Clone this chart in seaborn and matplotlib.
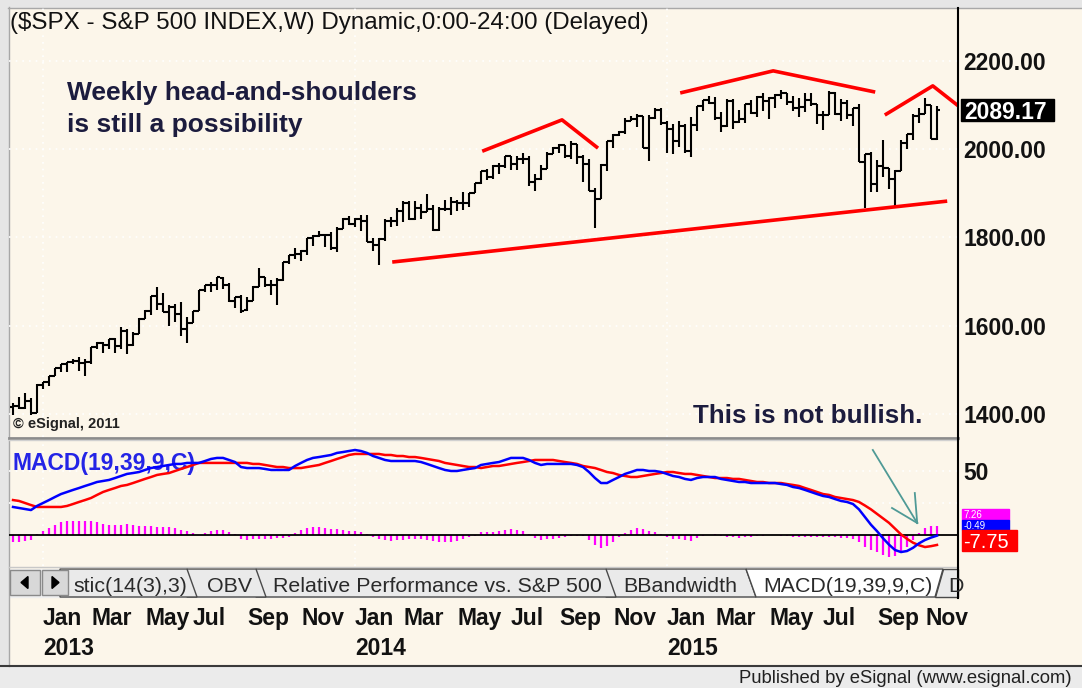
import numpy as np
import pandas as pd
import matplotlib
matplotlib.use("Agg")
import matplotlib.pyplot as plt
from matplotlib.patches import Rectangle, Polygon
import seaborn as sns

# ------------------------------------------------------------------ data
first_week_monday = "2012-12-03"          # weekly bars, dated by Monday

opens = [1416, 1418, 1414, 1430,
         1402, 1466, 1472, 1485, 1503, 1513, 1518, 1520, 1516, 1518, 1551, 1561, 1556, 1569, 1553, 1588,
         1555, 1582, 1614, 1633, 1667, 1650, 1631, 1643, 1626, 1593, 1606, 1632, 1680, 1692, 1692, 1708,
         1691, 1656, 1664, 1636, 1655, 1688, 1710, 1692, 1691, 1703, 1745, 1759, 1762, 1770, 1798, 1804,
         1806, 1805, 1775, 1818,
         1841, 1831, 1842, 1838, 1790, 1783, 1797, 1838, 1836, 1859, 1878, 1841, 1866, 1857, 1865, 1816,
         1864, 1863, 1881, 1878, 1878, 1901, 1924, 1950, 1936, 1962, 1961, 1985, 1967, 1978, 1978, 1925,
         1931, 1955, 1988, 2003, 2008, 1985, 2011, 1982, 1967, 1906, 1887, 1964, 2018, 2032, 2039, 2064,
         2068, 2075, 2002, 2071,
         2089, 2058, 2045, 2019, 2051, 1995, 2055, 2097, 2110, 2105, 2071, 2053, 2108, 2061, 2067, 2102,
         2081, 2117, 2108, 2116, 2123, 2126, 2107, 2092, 2095, 2110, 2102, 2077, 2077, 2127, 2079, 2104,
         2078, 2092, 1971, 1989, 1921, 1961, 1958, 1931, 1951, 2014, 2033, 2075, 2079, 2099, 2023]
highs = [1424, 1438, 1448, 1435,
         1467, 1472, 1485, 1503, 1514, 1518, 1524, 1530, 1525, 1552, 1564, 1563, 1570, 1573, 1597, 1592,
         1585, 1618, 1635, 1667, 1687, 1674, 1646, 1648, 1654, 1620, 1632, 1680, 1693, 1698, 1710, 1709,
         1696, 1664, 1670, 1664, 1689, 1730, 1711, 1704, 1708, 1745, 1759, 1775, 1771, 1799, 1806, 1814,
         1806, 1811, 1823, 1844,
         1849, 1843, 1850, 1850, 1798, 1798, 1841, 1847, 1867, 1883, 1883, 1883, 1875, 1897, 1873, 1869,
         1884, 1891, 1885, 1902, 1901, 1924, 1950, 1955, 1964, 1968, 1985, 1985, 1984, 1991, 1985, 1943,
         1964, 1994, 2005, 2012, 2008, 2019, 2011, 1986, 1977, 1912, 1965, 2018, 2034, 2041, 2071, 2075,
         2079, 2075, 2077, 2094,
         2093, 2064, 2056, 2064, 2057, 2073, 2097, 2110, 2119, 2117, 2083, 2114, 2114, 2089, 2102, 2111,
         2120, 2126, 2117, 2124, 2134, 2126, 2121, 2115, 2127, 2126, 2102, 2085, 2132, 2129, 2114, 2112,
         2093, 2102, 1989, 1993, 1975, 2021, 1958, 1952, 2020, 2034, 2079, 2094, 2116, 2099, 2097]
lows = [1398, 1411, 1411, 1398,
        1402, 1456, 1463, 1485, 1495, 1495, 1514, 1497, 1485, 1513, 1547, 1538, 1546, 1539, 1548, 1536,
        1553, 1581, 1614, 1623, 1635, 1630, 1598, 1608, 1577, 1560, 1605, 1632, 1676, 1676, 1681, 1684,
        1654, 1639, 1628, 1633, 1655, 1687, 1687, 1670, 1647, 1700, 1740, 1752, 1746, 1761, 1780, 1801,
        1779, 1772, 1767, 1818,
        1828, 1823, 1815, 1790, 1770, 1738, 1791, 1824, 1826, 1834, 1839, 1839, 1842, 1857, 1814, 1815,
        1859, 1851, 1859, 1862, 1868, 1901, 1921, 1930, 1933, 1944, 1956, 1952, 1952, 1965, 1916, 1905,
        1929, 1955, 1988, 1990, 1980, 1978, 1965, 1926, 1906, 1821, 1886, 1951, 2002, 2030, 2034, 2064,
        2050, 2002, 1972, 2069,
        2054, 1992, 1988, 2005, 1990, 1981, 2041, 2085, 2103, 2066, 2039, 2049, 2045, 2058, 2060, 2079,
        2073, 2085, 2067, 2092, 2114, 2099, 2085, 2072, 2083, 2097, 2056, 2044, 2077, 2077, 2063, 2067,
        2052, 1971, 1867, 1903, 1903, 1937, 1909, 1872, 1951, 1999, 2021, 2059, 2079, 2022, 2020]
closes = [1418, 1413, 1430, 1402,
          1466, 1472, 1485, 1503, 1513, 1518, 1520, 1516, 1518, 1551, 1561, 1556, 1569, 1553, 1588, 1555,
          1582, 1614, 1633, 1667, 1650, 1631, 1643, 1626, 1593, 1606, 1632, 1680, 1692, 1692, 1710, 1691,
          1656, 1664, 1633, 1655, 1688, 1710, 1692, 1691, 1703, 1745, 1759, 1762, 1770, 1798, 1804, 1806,
          1805, 1775, 1818, 1841,
          1831, 1842, 1838, 1790, 1783, 1797, 1838, 1836, 1859, 1878, 1841, 1866, 1857, 1865, 1816, 1864,
          1863, 1881, 1878, 1878, 1901, 1924, 1950, 1936, 1962, 1961, 1985, 1967, 1978, 1978, 1925, 1931,
          1955, 1988, 2003, 2008, 1985, 2011, 1982, 1967, 1906, 1887, 1964, 2018, 2032, 2039, 2064, 2068,
          2075, 2002, 2071, 2089,
          2058, 2045, 2019, 2051, 1995, 2055, 2097, 2110, 2105, 2071, 2053, 2108, 2061, 2067, 2102, 2081,
          2117, 2108, 2116, 2123, 2126, 2107, 2092, 2095, 2110, 2102, 2077, 2077, 2127, 2079, 2104, 2078,
          2092, 1971, 1989, 1921, 1961, 1958, 1931, 1951, 2014, 2033, 2075, 2079, 2099, 2023, 2089.17]

macd_line = [21.9, 21.1, 20.3, 19.5, 22.7, 25.0, 27.3, 29.7, 32.0, 33.6,
             35.2, 36.7, 38.3, 39.8, 41.4, 42.2, 43.0, 44.5, 46.1, 47.7,
             48.4, 49.2, 50.8, 52.3, 53.1, 53.9, 54.7, 55.5, 55.5, 56.3,
             56.3, 56.3, 57.8, 59.4, 60.2, 60.2, 58.6, 57.0, 53.1, 52.3,
             52.3, 52.3, 51.6, 50.8, 50.8, 50.8, 50.8, 53.9, 56.3, 58.6,
             60.2, 60.9, 61.7, 62.5, 64.1, 64.8, 65.6, 66.4, 65.6, 64.1,
             61.7, 60.2, 58.6, 57.8, 57.8, 57.8, 57.8, 57.8, 57.0, 55.5,
             53.9, 52.3, 50.8, 50.0, 50.0, 50.8, 51.6, 52.3, 54.7, 55.5,
             56.3, 57.0, 58.6, 60.2, 60.2, 60.2, 58.6, 56.3, 54.7, 55.5,
             55.5, 55.5, 55.5, 55.5, 54.7, 53.1, 49.2, 44.5, 40.6, 40.6,
             43.0, 45.3, 47.7, 49.2, 50.8, 50.8, 50.0, 50.0, 49.2, 47.7,
             46.1, 45.3, 43.8, 43.0, 44.5, 45.3, 45.3, 45.3, 43.8, 43.0,
             42.2, 41.4, 41.4, 40.6, 40.6, 40.6, 40.6, 40.6, 39.8, 39.1,
             37.5, 36.7, 35.2, 33.6, 32.0, 30.5, 29.7, 28.1, 26.6, 25.8,
             24.2, 20.0, 14.0, 8.0, 3.0, -2.5, -7.5, -11.7, -13.3, -12.5,
             -10.0, -6.5, -3.9, -2.0, -0.49]
signal_line = [27.3, 26.6, 25.0, 23.4, 21.9, 21.9, 21.9, 21.9, 21.9, 22.7,
               24.2, 25.8, 27.3, 28.9, 31.3, 33.6, 35.2, 36.7, 38.3, 39.1,
               40.6, 42.2, 43.8, 45.3, 46.9, 47.7, 48.4, 50.0, 51.6, 53.1,
               54.7, 56.3, 56.3, 56.3, 56.3, 56.3, 56.3, 56.3, 56.3, 56.3,
               55.5, 55.5, 54.7, 53.9, 53.1, 53.1, 52.3, 52.3, 52.3, 53.1,
               53.9, 54.7, 56.3, 57.8, 59.4, 60.9, 62.5, 63.3, 63.3, 63.3,
               63.3, 63.3, 62.5, 62.5, 61.7, 61.7, 60.9, 60.9, 60.2, 59.4,
               58.6, 57.8, 56.3, 55.5, 54.7, 53.9, 53.1, 53.1, 52.3, 53.1,
               53.9, 53.9, 54.7, 55.5, 56.3, 57.0, 57.8, 58.6, 58.6, 58.6,
               58.6, 57.8, 57.0, 56.3, 55.5, 53.9, 53.1, 52.3, 50.8, 49.2,
               48.4, 46.9, 46.1, 45.3, 45.3, 46.1, 46.9, 47.7, 48.4, 49.2,
               49.2, 48.4, 47.7, 47.7, 46.9, 46.1, 45.3, 44.5, 44.5, 44.5,
               43.8, 43.8, 43.0, 42.2, 41.4, 41.4, 40.6, 40.6, 40.6, 39.8,
               39.1, 38.3, 36.7, 35.2, 33.6, 32.0, 31.3, 29.7, 28.9, 28.1,
               27.3, 25.8, 23.0, 20.0, 16.5, 13.0, 9.5, 5.0, 0.5, -3.0,
               -6.0, -8.0, -9.4, -8.7, -7.75]

price_ticks = [1400, 1600, 1800, 2000, 2200]
macd_ticks = [50]
macd_grid = [25, 50]
last_price_label = "2089.17"
macd_tag_texts = ["7.26", "-0.49", "-7.75"]      # histogram, MACD, signal
labeled_months = {1: "Jan", 3: "Mar", 5: "May", 7: "Jul", 9: "Sep", 11: "Nov"}

# hand-drawn annotation lines (bar index, price)
neck_x, neck_y = [63.2, 155.7], [1744, 1882]
lsh_x, lsh_y = [78.2, 91.5, 97.5], [1995, 2066, 2002]
head_x, head_y = [111.2, 126.7, 143.7], [2127, 2177, 2129]
rsh_x, rsh_y = [145.3, 153.3, 157.8], [2077, 2143, 2095]
# arrow in MACD pane (bar index, MACD value)
arrow_shaft = ([143.3, 150.7], [66.4, 9.4])
arrow_wing1 = ([146.5, 150.7], [21.1, 9.4])
arrow_wing2 = ([150.3, 150.7], [32.8, 9.4])

title_text = "($SPX - S&P 500 INDEX,W) Dynamic,0:00-24:00 (Delayed)"
note1 = ["Weekly head-and-shoulders", "is still a possibility"]
note2 = "This is not bullish."
tab_names = ["stic(14(3),3)", "OBV", "Relative Performance vs. S&P 500", "BBandwidth",
             "MACD(19,39,9,C)", "D"]

# ------------------------------------------------------------------ style
plt.rcParams['font.family'] = ['Liberation Sans', 'DejaVu Sans']
W, H, DPI = 1082, 688, 100
CREAM = '#FCF6EA'
INK = '#121212'
NAVY = '#1C1C3E'
MAGENTA = '#FF00FF'

n = len(closes)
xs = np.arange(n)
weeks = pd.date_range(first_week_monday, periods=n, freq='7D')
hist = np.array(macd_line) - np.array(signal_line)

fig = plt.figure(figsize=(W / DPI, H / DPI), dpi=DPI, facecolor=CREAM)


def fr(x0, y0, x1, y1):
    return [x0 / W, 1 - y1 / H, (x1 - x0) / W, (y1 - y0) / H]


bg = fig.add_axes([0, 0, 1, 1], zorder=0)
bg.set_xlim(0, W); bg.set_ylim(H, 0); bg.axis('off')
ax = fig.add_axes(fr(9, 8, 958, 437), zorder=2)
axm = fig.add_axes(fr(9, 440, 958, 566), zorder=2)
ov = fig.add_axes([0, 0, 1, 1], zorder=5)
ov.set_xlim(0, W); ov.set_ylim(H, 0); ov.axis('off')

XL = (-0.67, 157.5)
for a in (ax, axm):
    a.set_facecolor('none')
    a.set_xlim(*XL)
    for s in a.spines.values():
        s.set_visible(False)
    a.set_xticks([])
    a.yaxis.tick_right()
    a.tick_params(axis='y', length=0, pad=4, labelsize=16.5, labelcolor=INK)

# ---------------- main price pane
ax.set_ylim(1347.7, 2319.4)
ax.set_yticks(price_ticks)
ax.set_yticklabels([f"{v:.2f}" for v in price_ticks], fontweight='bold')
for v in price_ticks:
    ax.axhline(v, color='white', lw=1.2, ls=(0, (1, 3)), zorder=0)
jan_idx = [i for i in range(1, n) if weeks[i].month == 1 and weeks[i - 1].month != 1]
for i in jan_idx:
    ax.axvline(i, color='white', lw=1.2, ls=(0, (1, 3)), zorder=0)
    axm.axvline(i, color='white', lw=1.2, ls=(0, (1, 3)), zorder=0)

ax.vlines(xs, lows, highs, color='black', lw=1.5, zorder=3)
ax.hlines(opens, xs - 0.55, xs, color='black', lw=1.5, zorder=3)
ax.hlines(closes, xs, xs + 0.55, color='black', lw=1.5, zorder=3)

for lx, ly in [(neck_x, neck_y), (lsh_x, lsh_y), (head_x, head_y), (rsh_x, rsh_y)]:
    ax.plot(lx, ly, color='#FF0000', lw=2.6, zorder=4, solid_capstyle='butt')

# ---------------- MACD pane
axm.set_ylim(-24.2, 74.2)
axm.set_yticks(macd_ticks)
axm.set_yticklabels([str(v) for v in macd_ticks], fontweight='bold')
for v in macd_grid:
    axm.axhline(v, color='white', lw=1.2, ls=(0, (1, 3)), zorder=0)
axm.vlines(xs, 0, hist, color=MAGENTA, lw=1.6, zorder=2)
axm.axhline(0, color='black', lw=1.3, zorder=2.5)
sns.lineplot(x=xs, y=signal_line, ax=axm, color='#FF0000', linewidth=1.8, zorder=3)
sns.lineplot(x=xs, y=macd_line, ax=axm, color='#0000FF', linewidth=1.8, zorder=3.5)
for sx, sy in (arrow_shaft, arrow_wing1, arrow_wing2):
    axm.plot(sx, sy, color='#4F9A96', lw=1.3, zorder=4)
axm.set_xlabel(''); axm.set_ylabel('')
axm.text(12, 470, "MACD(19,39,9,C)", transform=ov.transData, fontsize=16.5,
         fontweight='bold', color='#2424E6', zorder=1, clip_on=False)

fig.canvas.draw()


def to_px(a, xv, yv):
    d = a.transData.transform((xv, yv))
    return d[0], H - d[1]


# ---------------- frame / borders
bg.add_patch(Rectangle((0, 0), W, 7, color='#E6E6E6'))
bg.add_patch(Rectangle((0, 0), 8, H, color='#E6E6E6'))
bg.plot([8, W], [7.5, 7.5], color='#A8A8A8', lw=1)
bg.plot([8.5, 8.5], [7, 666], color='#A8A8A8', lw=1)
bg.add_patch(Rectangle((0, 666), W, H - 666, color='#EBEBEB'))
ov.plot([0, W], [666, 666], color='#3A3A3A', lw=1.5)
ov.plot([9, 958], [437.5, 437.5], color='#8C8C8C', lw=2)
ov.plot([9, 958], [439.8, 439.8], color='#D0D0D0', lw=1)
ov.plot([9, 958], [566.5, 566.5], color='#C8C8C8', lw=1)
ov.plot([958, 958], [8, 598], color='black', lw=1.5)

# ---------------- texts
ov.text(10, 29, title_text, fontsize=17.4, color=INK, va='baseline')
ov.text(67, 100, note1[0], fontsize=19, fontweight='bold', color=NAVY, va='baseline')
ov.text(67, 132, note1[1], fontsize=19, fontweight='bold', color=NAVY, va='baseline')
ov.text(693, 423, note2, fontsize=18.7, fontweight='bold', color=NAVY, va='baseline')
ov.text(13, 428, "\u00a9 eSignal, 2011", fontsize=10.5, fontweight='bold', color='#222222',
        va='baseline')
ov.text(1072, 683, "Published by eSignal (www.esignal.com)", fontsize=13.3, color='#202020',
        ha='right', va='baseline')

# last price tag
_, yp = to_px(ax, 0, closes[-1])
ov.add_patch(Rectangle((961, yp - 11), 93, 22, color='black'))
ov.text(964, yp, last_price_label, color='white', fontsize=16.5, fontweight='bold',
        va='center_baseline')

# MACD value tags (stacked); small tags keep their text inside their own box
_, ys = to_px(axm, 0, signal_line[-1])
tag_specs = [(MAGENTA, ys - 36, ys - 25, 47, macd_tag_texts[0], 7),
             ('#0000FF', ys - 25, ys - 15, 47, macd_tag_texts[1], 7),
             ('#FF0000', ys - 15, ys + 6, 55, macd_tag_texts[2], 14.5)]
for col, top, bot, wdt, txt, fs in tag_specs:
    r = Rectangle((962, top), wdt, bot - top, color=col)
    ov.add_patch(r)
    t = ov.text(963.5, (top + bot) / 2, txt, color='white', fontsize=fs, va='center_baseline')
    t.set_clip_path(r)

# ---------------- date labels
for i in range(1, n):
    d = weeks[i]
    if d.month in labeled_months and weeks[i - 1].month != d.month:
        px, _ = to_px(ax, i, 2000)
        ov.text(px, 625, labeled_months[d.month], fontsize=16.5, fontweight='bold',
                color=INK, va='baseline')
        if d.month == 1:
            ov.text(px, 655, str(d.year), fontsize=16.5, fontweight='bold', color=INK,
                    va='baseline')

# ---------------- indicator tab strip
TT, TB = 569, 597
bg.add_patch(Rectangle((9, TT), 949, TB - TT, color='#EFEFEF'))
tab_text_x = [73, 207, 273, 623, 763, 948]
tab_right = [187, 256, 606, 746, 943]
part = Polygon([(943, TT), (958, TT), (958, TB), (935, TB)], closed=True,
               fc='#EAEAEA', ec='#4A4A4A', lw=1)
ov.add_patch(part)
td = ov.text(tab_text_x[5], 592, tab_names[5], fontsize=15.4, color='#2A2A2A', va='baseline')
td.set_clip_path(part)
for k in [3, 2, 1, 0]:
    start = 60 if k == 0 else tab_right[k - 1]
    e = tab_right[k]
    ov.add_patch(Polygon([(start, TT), (e, TT), (e + 10, TB), (start, TB)], closed=True,
                         fc='#EAEAEA', ec='#4A4A4A', lw=1))
for k in [3, 2, 1, 0]:
    ov.text(tab_text_x[k], 592, tab_names[k], fontsize=15.4, color='#2A2A2A', va='baseline')
ov.add_patch(Polygon([(tab_right[3], TT), (tab_right[4], TT), (tab_right[4] - 8, TB),
                      (tab_right[3] + 10, TB)], closed=True, fc='white', ec='#4A4A4A', lw=1))
ov.text(tab_text_x[4], 592, tab_names[4], fontsize=15.4, color='#2A2A2A', va='baseline')
for bx0, bx1 in [(10, 40), (42, 68)]:
    ov.add_patch(Rectangle((bx0, 570), bx1 - bx0, 25, fc='#D8D8D8', ec='#8A8A8A', lw=1))
ov.add_patch(Polygon([(21, 582.5), (28, 576.5), (28, 588.5)], closed=True, color='black'))
ov.add_patch(Polygon([(52, 576.5), (59, 582.5), (52, 588.5)], closed=True, color='black'))

fig.savefig("out.png", dpi=DPI, facecolor=CREAM)
